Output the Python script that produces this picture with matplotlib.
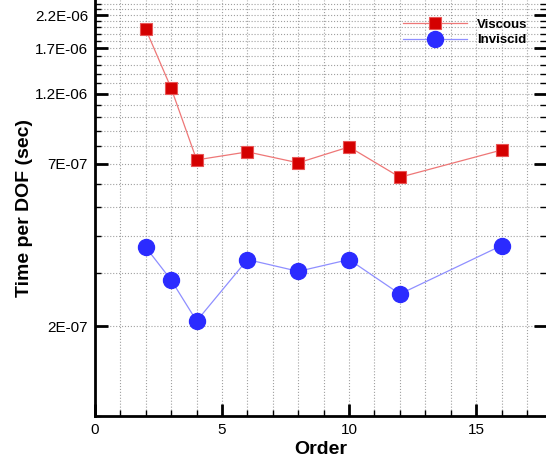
import numpy as np
import matplotlib
matplotlib.use("Agg")
import matplotlib.pyplot as plt
from matplotlib.ticker import FixedLocator, NullFormatter, MultipleLocator

plt.rcParams['font.family'] = ['Liberation Sans', 'DejaVu Sans']

# timing data per polynomial order
order = [2, 3, 4, 6, 8, 10, 12, 16]
viscous = [1.97e-06, 1.25e-06, 7.2e-07, 7.66e-07, 7.04e-07, 7.96e-07, 6.3e-07, 7.77e-07]
inviscid = [3.67e-07, 2.85e-07, 2.08e-07, 3.34e-07, 3.05e-07, 3.34e-07, 2.56e-07, 3.72e-07]

ytick_vals = [2e-07, 7e-07, 1.2e-06, 1.7e-06, 2.2e-06]
ytick_labels = ["2E-07", "7E-07", "1.2E-06", "1.7E-06", "2.2E-06"]
xtick_vals = [0, 5, 10, 15]

fig = plt.figure(figsize=(5.46, 4.59), dpi=100)
ax = fig.add_axes([95 / 546, 43 / 459, 451 / 546, 416 / 459])

ax.plot(order, viscous, color='#ee7777', lw=0.9, marker='s', markersize=8.5,
        markerfacecolor='#d40000', markeredgecolor='#e85555', markeredgewidth=0.8,
        label='Viscous', zorder=3)
ax.plot(order, inviscid, color='#8f8fff', lw=0.9, marker='o', markersize=11.5,
        markerfacecolor='#2b2bff', markeredgecolor='#2b2bff',
        label='Inviscid', zorder=3)

ax.set_yscale('log')
ax.set_xlim(0, 17.75)
ax.set_ylim(1e-07, 2.47e-06)

ax.yaxis.set_major_locator(FixedLocator(ytick_vals))
ax.set_yticklabels(ytick_labels)
ax.yaxis.set_minor_locator(FixedLocator(np.arange(1, 25) * 1e-07))
ax.yaxis.set_minor_formatter(NullFormatter())
ax.xaxis.set_major_locator(FixedLocator(xtick_vals))
ax.xaxis.set_minor_locator(MultipleLocator(1))

ax.tick_params(which='major', direction='in', length=9, width=2, labelsize=11,
               right=True, pad=5)
ax.tick_params(which='minor', direction='in', length=4.5, width=1, right=True)

ax.grid(which='both', linestyle=':', color='#a0a0a0', linewidth=0.8)
ax.set_axisbelow(True)

for side in ['left', 'bottom']:
    ax.spines[side].set_linewidth(2)
ax.spines['top'].set_visible(False)
ax.spines['right'].set_visible(False)

ax.set_xlabel("Order", fontsize=14, fontweight='bold', labelpad=3)
ax.set_ylabel("Time per DOF (sec)", fontsize=14, fontweight='bold', labelpad=1)

leg = ax.legend(loc='upper right', bbox_to_anchor=(0.98, 0.978), frameon=False,
                prop={'weight': 'bold', 'size': 9.5}, handlelength=4.8,
                handletextpad=0.8, labelspacing=0.25, borderaxespad=0.3)

fig.savefig("out.png", dpi=100)
